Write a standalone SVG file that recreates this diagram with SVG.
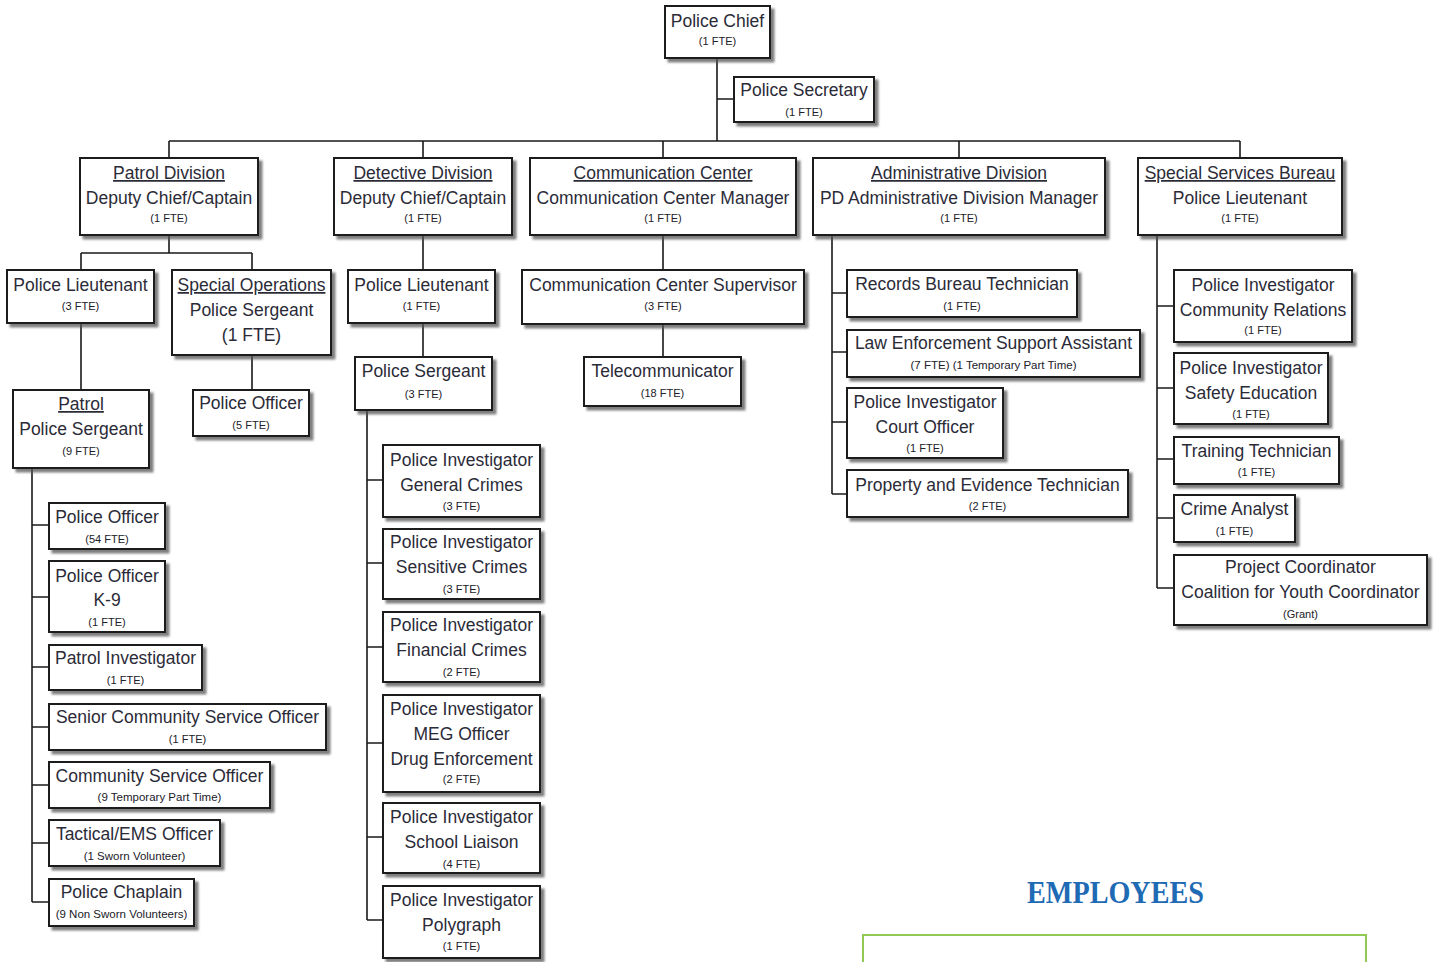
<svg xmlns="http://www.w3.org/2000/svg" width="1440" height="962" viewBox="0 0 1440 962">
<style>
.b{fill:#fff;stroke:#1a1a1a;stroke-width:2;filter:url(#sh)}
.t{font-family:"Liberation Sans",Arial,sans-serif;font-size:17.5px;fill:#2b2b38;text-anchor:middle}
.s{font-family:"Liberation Sans",Arial,sans-serif;font-size:11px;fill:#202028;text-anchor:middle}
.x{font-family:"Liberation Sans",Arial,sans-serif;font-size:11.5px;fill:#202028;text-anchor:middle}
.u{text-decoration:underline}
.c{fill:none;stroke:#1a1a1a;stroke-width:1.6}
</style>
<defs>
<filter id="sh" x="-10%" y="-10%" width="130%" height="140%">
<feDropShadow dx="3.5" dy="3.5" stdDeviation="0.8" flood-color="#555" flood-opacity="0.75"/>
</filter>
</defs>
<rect width="1440" height="962" fill="#fff"/>
<g id="connectors" class="c">
<path d="M717 58V141M717 99H734M169 141H1240M169 141V158M423 141V158M663 141V158M959 141V158M1240 141V158"/>
<path d="M169 235V253M81 253H252M81 253V270M252 253V270M81 323V390M252 355V390"/>
<path d="M32 468V902M32 525H49M32 597H49M32 667H49M32 727H49M32 785H49M32 843H49M32 902H49"/>
<path d="M423 235V270M423 323V357M367 410V920M367 480H383M367 563H383M367 647H383M367 743H383M367 837H383M367 920H383"/>
<path d="M663 235V270M663 324V357"/>
<path d="M832 235V494M832 293H847M832 352H847M832 422H847M832 494H847"/>
<path d="M1157 235V588M1157 306H1174M1157 388H1174M1157 459H1174M1157 518H1174M1157 588H1174"/>
</g>
<g id="chief"><rect class="b" x="665" y="6" width="105" height="52"/><text class="t" x="717.5" y="27">Police Chief</text><text class="s" x="717.5" y="45">(1 FTE)</text></g>
<g id="secretary"><rect class="b" x="734" y="77" width="140" height="45"/><text class="t" x="804" y="96">Police Secretary</text><text class="s" x="804" y="116">(1 FTE)</text></g>
<g id="patrol-division"><rect class="b" x="80" y="158" width="178" height="77"/><text class="t u" x="169" y="179">Patrol Division</text><text class="t" x="169" y="204">Deputy Chief/Captain</text><text class="s" x="169" y="222">(1 FTE)</text></g>
<g id="detective-division"><rect class="b" x="334" y="158" width="178" height="77"/><text class="t u" x="423" y="179">Detective Division</text><text class="t" x="423" y="204">Deputy Chief/Captain</text><text class="s" x="423" y="222">(1 FTE)</text></g>
<g id="communication-center"><rect class="b" x="530" y="158" width="266" height="77"/><text class="t u" x="663" y="179">Communication Center</text><text class="t" x="663" y="204">Communication Center Manager</text><text class="s" x="663" y="222">(1 FTE)</text></g>
<g id="administrative-division"><rect class="b" x="813" y="158" width="292" height="77"/><text class="t u" x="959" y="179">Administrative Division</text><text class="t" x="959" y="204">PD Administrative Division Manager</text><text class="s" x="959" y="222">(1 FTE)</text></g>
<g id="special-services"><rect class="b" x="1138" y="158" width="204" height="77"/><text class="t u" x="1240" y="179">Special Services Bureau</text><text class="t" x="1240" y="204">Police Lieutenant</text><text class="s" x="1240" y="222">(1 FTE)</text></g>
<g id="patrol-lieutenant"><rect class="b" x="7" y="270" width="147" height="53"/><text class="t" x="80.5" y="291">Police Lieutenant</text><text class="s" x="80.5" y="310">(3 FTE)</text></g>
<g id="special-operations"><rect class="b" x="172" y="270" width="159" height="85"/><text class="t u" x="251.5" y="291">Special Operations</text><text class="t" x="251.5" y="316">Police Sergeant</text><text class="t" x="251.5" y="341">(1 FTE)</text></g>
<g id="patrol-sergeant"><rect class="b" x="13" y="390" width="136" height="78"/><text class="t u" x="81" y="410">Patrol</text><text class="t" x="81" y="435">Police Sergeant</text><text class="s" x="81" y="455">(9 FTE)</text></g>
<g id="special-ops-officer"><rect class="b" x="193" y="390" width="116" height="46"/><text class="t" x="251" y="409">Police Officer</text><text class="s" x="251" y="429">(5 FTE)</text></g>
<g id="police-officer"><rect class="b" x="49" y="503" width="116" height="46"/><text class="t" x="107" y="523">Police Officer</text><text class="s" x="107" y="543">(54 FTE)</text></g>
<g id="k9"><rect class="b" x="49" y="561" width="116" height="71"/><text class="t" x="107" y="582">Police Officer</text><text class="t" x="107" y="606">K-9</text><text class="s" x="107" y="626">(1 FTE)</text></g>
<g id="patrol-investigator"><rect class="b" x="49" y="645" width="153" height="45"/><text class="t" x="125.5" y="664">Patrol Investigator</text><text class="s" x="125.5" y="684">(1 FTE)</text></g>
<g id="senior-cso"><rect class="b" x="49" y="704" width="277" height="46"/><text class="t" x="187.5" y="723">Senior Community Service Officer</text><text class="s" x="187.5" y="743">(1 FTE)</text></g>
<g id="cso"><rect class="b" x="49" y="762" width="221" height="46"/><text class="t" x="159.5" y="782">Community Service Officer</text><text class="x" x="159.5" y="801">(9 Temporary Part Time)</text></g>
<g id="tactical"><rect class="b" x="49" y="820" width="171" height="46"/><text class="t" x="134.5" y="840">Tactical/EMS Officer</text><text class="x" x="134.5" y="860">(1 Sworn Volunteer)</text></g>
<g id="chaplain"><rect class="b" x="49" y="879" width="145" height="47"/><text class="t" x="121.5" y="898">Police Chaplain</text><text class="x" x="121.5" y="918">(9 Non Sworn Volunteers)</text></g>
<g id="detective-lieutenant"><rect class="b" x="348" y="270" width="147" height="53"/><text class="t" x="421.5" y="291">Police Lieutenant</text><text class="s" x="421.5" y="310">(1 FTE)</text></g>
<g id="detective-sergeant"><rect class="b" x="355" y="357" width="137" height="53"/><text class="t" x="423.5" y="377">Police Sergeant</text><text class="s" x="423.5" y="398">(3 FTE)</text></g>
<g id="general-crimes"><rect class="b" x="383" y="445" width="157" height="72"/><text class="t" x="461.5" y="466">Police Investigator</text><text class="t" x="461.5" y="491">General Crimes</text><text class="s" x="461.5" y="510">(3 FTE)</text></g>
<g id="sensitive-crimes"><rect class="b" x="383" y="529" width="157" height="70"/><text class="t" x="461.5" y="548">Police Investigator</text><text class="t" x="461.5" y="573">Sensitive Crimes</text><text class="s" x="461.5" y="593">(3 FTE)</text></g>
<g id="financial-crimes"><rect class="b" x="383" y="612" width="157" height="70"/><text class="t" x="461.5" y="631">Police Investigator</text><text class="t" x="461.5" y="656">Financial Crimes</text><text class="s" x="461.5" y="676">(2 FTE)</text></g>
<g id="meg-officer"><rect class="b" x="383" y="695" width="157" height="97"/><text class="t" x="461.5" y="715">Police Investigator</text><text class="t" x="461.5" y="740">MEG Officer</text><text class="t" x="461.5" y="765">Drug Enforcement</text><text class="s" x="461.5" y="783">(2 FTE)</text></g>
<g id="school-liaison"><rect class="b" x="383" y="803" width="157" height="70"/><text class="t" x="461.5" y="823">Police Investigator</text><text class="t" x="461.5" y="848">School Liaison</text><text class="s" x="461.5" y="868">(4 FTE)</text></g>
<g id="polygraph"><rect class="b" x="383" y="886" width="157" height="72"/><text class="t" x="461.5" y="906">Police Investigator</text><text class="t" x="461.5" y="931">Polygraph</text><text class="s" x="461.5" y="950">(1 FTE)</text></g>
<g id="cc-supervisor"><rect class="b" x="522" y="270" width="282" height="54"/><text class="t" x="663" y="291">Communication Center Supervisor</text><text class="s" x="663" y="310">(3 FTE)</text></g>
<g id="telecommunicator"><rect class="b" x="584" y="357" width="157" height="49"/><text class="t" x="662.5" y="377">Telecommunicator</text><text class="s" x="662.5" y="397">(18 FTE)</text></g>
<g id="records"><rect class="b" x="847" y="270" width="230" height="47"/><text class="t" x="962" y="290">Records Bureau Technician</text><text class="s" x="962" y="310">(1 FTE)</text></g>
<g id="lesa"><rect class="b" x="847" y="330" width="293" height="47"/><text class="t" x="993.5" y="349">Law Enforcement Support Assistant</text><text class="x" x="993.5" y="369">(7 FTE) (1 Temporary Part Time)</text></g>
<g id="court-officer"><rect class="b" x="847" y="388" width="156" height="70"/><text class="t" x="925" y="408">Police Investigator</text><text class="t" x="925" y="433">Court Officer</text><text class="s" x="925" y="452">(1 FTE)</text></g>
<g id="property"><rect class="b" x="847" y="470" width="281" height="47"/><text class="t" x="987.5" y="491">Property and Evidence Technician</text><text class="s" x="987.5" y="510">(2 FTE)</text></g>
<g id="community-relations"><rect class="b" x="1174" y="270" width="178" height="72"/><text class="t" x="1263" y="291">Police Investigator</text><text class="t" x="1263" y="316">Community Relations</text><text class="s" x="1263" y="334">(1 FTE)</text></g>
<g id="safety-education"><rect class="b" x="1174" y="353" width="154" height="71"/><text class="t" x="1251" y="374">Police Investigator</text><text class="t" x="1251" y="399">Safety Education</text><text class="s" x="1251" y="418">(1 FTE)</text></g>
<g id="training"><rect class="b" x="1174" y="437" width="165" height="47"/><text class="t" x="1256.5" y="457">Training Technician</text><text class="s" x="1256.5" y="476">(1 FTE)</text></g>
<g id="crime-analyst"><rect class="b" x="1174" y="495" width="121" height="47"/><text class="t" x="1234.5" y="515">Crime Analyst</text><text class="s" x="1234.5" y="535">(1 FTE)</text></g>
<g id="project-coordinator"><rect class="b" x="1174" y="555" width="253" height="70"/><text class="t" x="1300.5" y="573">Project Coordinator</text><text class="t" x="1300.5" y="598">Coalition for Youth Coordinator</text><text class="s" x="1300.5" y="618">(Grant)</text></g>
<text x="1115.5" y="903" font-family="'Liberation Serif','Times New Roman',serif" font-weight="bold" font-size="32" fill="#1e6ab4" text-anchor="middle" textLength="177" lengthAdjust="spacingAndGlyphs">EMPLOYEES</text>
<rect x="863" y="935" width="503" height="40" fill="none" stroke="#92c955" stroke-width="2"/>
</svg>
